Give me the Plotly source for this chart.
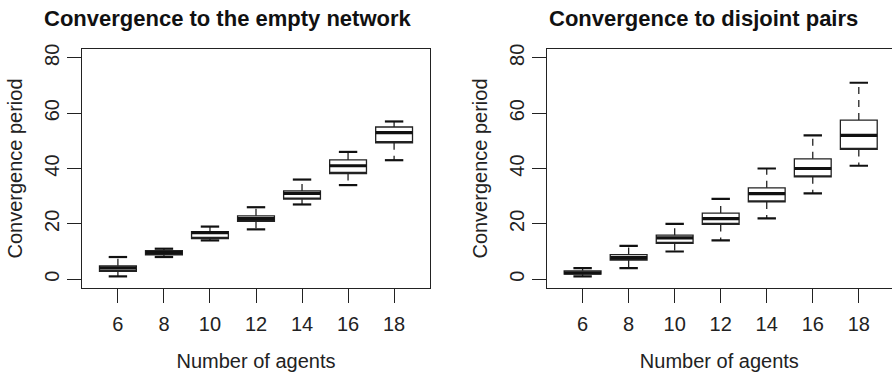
import plotly.graph_objects as go

# ---- data ----
agents = [6, 8, 10, 12, 14, 16, 18]

empty_lower = [1, 8, 14, 18, 27, 34, 43]
empty_q1 = [2.8, 8.8, 14.7, 20.9, 28.9, 38.2, 49.3]
empty_median = [4.1, 9.6, 16.8, 21.9, 31, 41, 53]
empty_q3 = [4.8, 10.3, 17.2, 22.9, 31.9, 43.1, 55]
empty_upper = [8, 11, 19, 26, 36, 46, 57]

pairs_lower = [1, 4, 10, 14, 22, 31, 41]
pairs_q1 = [1.8, 6.9, 12.9, 19.8, 27.9, 37, 46.9]
pairs_median = [2.3, 7.8, 14.9, 21.9, 30.9, 40, 52]
pairs_q3 = [3.0, 8.9, 15.9, 23.9, 33, 43.5, 57.5]
pairs_upper = [4, 12, 20, 29, 40, 52, 71]

y_ticks = [0, 20, 40, 60, 80]

panel_titles = ["Convergence to the empty network", "Convergence to disjoint pairs"]
x_title = "Number of agents"
y_title = "Convergence period"

# ---- style ----
FONT = "Liberation Sans, Arial, Helvetica, sans-serif"
INK = "#222222"
BOX_W = 1.6
CAP_W = 0.4

W, H = 892, 376
ML, MR, MT, MB = 82, 0, 49, 88
PW = W - ML - MR
PH = H - MT - MB


def segs(xs0, xs1, ys0, ys1):
    xx, yy = [], []
    for a, b, c, d in zip(xs0, xs1, ys0, ys1):
        xx += [a, b, None]
        yy += [c, d, None]
    return xx, yy


def add_panel(fig, xa, ya, lower, q1, med, q3, upper):
    # boxes
    fig.add_trace(go.Box(
        x=agents, q1=q1, median=q1, q3=q3, lowerfence=q1, upperfence=q3,
        width=BOX_W, whiskerwidth=0, boxpoints=False,
        fillcolor="white", line=dict(color=INK, width=1.3),
        xaxis=xa, yaxis=ya, showlegend=False, hoverinfo="skip",
    ))
    # dashed whiskers
    wx, wy = segs(agents + agents, agents + agents, q3 + q1, upper + lower)
    fig.add_trace(go.Scatter(
        x=wx, y=wy, mode="lines", xaxis=xa, yaxis=ya, showlegend=False,
        line=dict(color=INK, width=1.3, dash="7px,6px"), hoverinfo="skip",
    ))
    # staples
    left = [a - CAP_W for a in agents]
    right = [a + CAP_W for a in agents]
    cx, cy = segs(left + left, right + right, upper + lower, upper + lower)
    fig.add_trace(go.Scatter(
        x=cx, y=cy, mode="lines", xaxis=xa, yaxis=ya, showlegend=False,
        line=dict(color="#111111", width=2.2), hoverinfo="skip",
    ))
    # medians
    ml = [a - BOX_W / 2 for a in agents]
    mr = [a + BOX_W / 2 for a in agents]
    mx, my = segs(ml, mr, med, med)
    fig.add_trace(go.Scatter(
        x=mx, y=my, mode="lines", xaxis=xa, yaxis=ya, showlegend=False,
        line=dict(color="#111111", width=3.2), hoverinfo="skip",
    ))


fig = go.Figure()
add_panel(fig, "x", "y", empty_lower, empty_q1, empty_median, empty_q3, empty_upper)
add_panel(fig, "x2", "y2", pairs_lower, pairs_q1, pairs_median, pairs_q3, pairs_upper)

unit = 348 / (19.56 - 4.44)
right_end = 4.44 + (W - 546.7) / unit

xcommon = dict(
    tickvals=agents, ticks="outside", ticklen=14, tickwidth=1.3, tickcolor=INK,
    showline=True, linecolor=INK, linewidth=1.3, showgrid=False, zeroline=False,
    ticklabelstandoff=4,
    tickfont=dict(family=FONT, size=20, color="#222"),
    title=dict(text=x_title, font=dict(family=FONT, size=20, color="#222"), standoff=19),
)
ycommon = dict(
    range=[-3.2, 83.2], tickvals=y_ticks, ticks="outside", ticklen=14, tickwidth=1.3,
    tickcolor=INK, showline=True, linecolor=INK, linewidth=1.3, showgrid=False,
    zeroline=False, tickangle=-90,
    tickfont=dict(family=FONT, size=20, color="#222"),
    title=dict(text=y_title, font=dict(family=FONT, size=20, color="#222"), standoff=12),
)

fig.update_layout(
    width=W, height=H, margin=dict(l=ML, r=MR, t=MT, b=MB),
    paper_bgcolor="white", plot_bgcolor="white",
    xaxis=dict(domain=[0, 348 / PW], range=[4.44, 19.56], mirror=True, anchor="y", **xcommon),
    yaxis=dict(domain=[0, 1], mirror=True, anchor="x", **ycommon),
    xaxis2=dict(domain=[(546.7 - ML) / PW, 1], range=[4.44, right_end], mirror=True, anchor="y2", **xcommon),
    yaxis2=dict(domain=[0, 1], mirror=False, anchor="x2", **ycommon),
    showlegend=False,
)

title_centers = [227.5, 703.5]
for t, cxp in zip(panel_titles, title_centers):
    fig.add_annotation(
        text=t, xref="paper", yref="paper",
        x=(cxp - ML) / PW, y=1 + (MT - 18) / PH, xanchor="center", yanchor="middle",
        showarrow=False, font=dict(family=FONT, size=22, color="#111", weight="bold"),
    )

fig.write_html("out.html")
